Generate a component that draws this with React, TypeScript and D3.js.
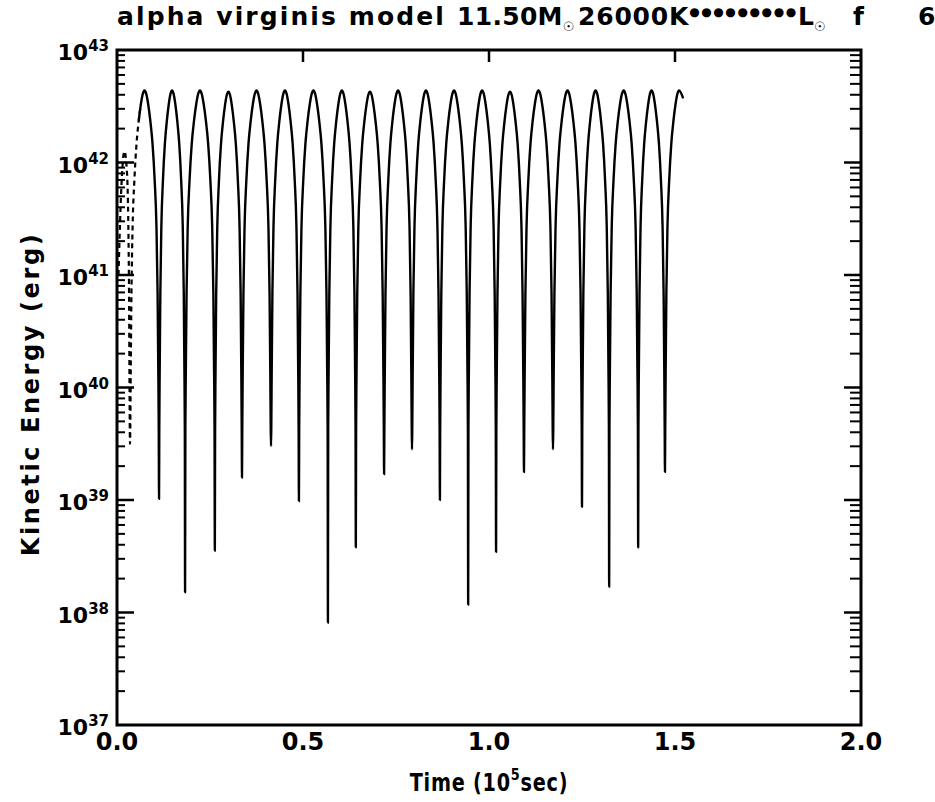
import React from "react";
import * as d3 from "d3";

// ---- data ----
// times (10^5 s) of the kinetic-energy minima (spikes)
const SPIKE_T = [0.035, 0.113, 0.183, 0.263, 0.336, 0.414, 0.489, 0.567, 0.642, 0.718, 0.793, 0.868, 0.944, 1.019, 1.094, 1.172, 1.25, 1.323, 1.401, 1.473];
// log10 of kinetic energy (erg) at those minima
const SPIKE_LOG = [39.5, 39.01, 38.18, 38.55, 39.2, 39.48, 38.99, 37.91, 38.58, 39.23, 39.45, 39.0, 38.07, 38.54, 39.25, 39.45, 38.94, 38.23, 38.58, 39.25];
// log10 of kinetic energy at each maximum (one per arc, last one is partial)
const PEAK_LOG = [42.64, 42.64, 42.64, 42.63, 42.64, 42.64, 42.64, 42.64, 42.63, 42.64, 42.64, 42.64, 42.64, 42.63, 42.64, 42.64, 42.64, 42.64, 42.64, 42.64];
// shape of one arc: fraction of the way from spike to crest, and drop below crest (dex)
const PROFILE_F = [0.02, 0.05, 0.1, 0.18, 0.3, 0.45, 0.6, 0.75, 0.88, 1.0];
const PROFILE_DROP = [3.0, 2.5, 1.8, 1.2, 0.8, 0.47, 0.27, 0.12, 0.03, 0];
// initial transient before the first spike
const TRANSIENT_T = [0.004, 0.012, 0.02, 0.027, 0.032];
const TRANSIENT_LOG = [41.0, 41.8, 42.1, 41.9, 41.0];
// last arc crest and end of the run
const LAST_PEAK_T = 1.511;
const END_T = 1.522;
const END_LOG = 42.57;
const DASHED_UNTIL_T = 0.062;

const X_TICKS = [0, 0.5, 1.0, 1.5, 2.0];
const X_TICK_LABELS = ["0.0", "0.5", "1.0", "1.5", "2.0"];
const Y_DECADES = [37, 38, 39, 40, 41, 42, 43];

const W = 935, H = 802;
const L = 117, R = 861, T = 50, B = 725;
const FONT = "'DejaVu Sans', sans-serif";

export default function App() {
  const x = d3.scaleLinear().domain([0, 2]).range([L, R]);
  const y = d3.scaleLog().domain([1e37, 1e43]).range([B, T]);

  // build the series
  const pts: [number, number][] = [];
  TRANSIENT_T.forEach((t, i) => pts.push([t, TRANSIENT_LOG[i]]));
  for (let i = 0; i < SPIKE_T.length; i++) {
    const s = SPIKE_T[i];
    pts.push([s, SPIKE_LOG[i]]);
    const peak = PEAK_LOG[i];
    if (i < SPIKE_T.length - 1) {
      const n = SPIKE_T[i + 1];
      const mid = (s + n) / 2;
      PROFILE_F.forEach((f, k) => pts.push([s + f * (mid - s), peak - PROFILE_DROP[k]]));
      for (let k = PROFILE_F.length - 2; k >= 0; k--) {
        pts.push([n - PROFILE_F[k] * (n - mid), peak - PROFILE_DROP[k]]);
      }
    } else {
      PROFILE_F.forEach((f, k) => pts.push([s + f * (LAST_PEAK_T - s), peak - PROFILE_DROP[k]]));
      pts.push([END_T, END_LOG]);
    }
  }
  const dashed = pts.filter((p) => p[0] <= DASHED_UNTIL_T + 0.004);
  const solid = pts.filter((p) => p[0] >= DASHED_UNTIL_T - 0.004);

  const line = d3
    .line<[number, number]>()
    .x((d) => x(d[0]))
    .y((d) => y(Math.pow(10, d[1])))
    .curve(d3.curveMonotoneX);

  const minor: number[] = [];
  for (let dcd = 37; dcd < 43; dcd++) for (let k = 2; k <= 9; k++) minor.push(k * Math.pow(10, dcd));

  return (
    <svg width={W} height={H} style={{ position: "absolute", left: 0, top: 0, background: "#fff" }}>
      <rect width={W} height={H} fill="#fff" />
      {/* title */}
      <g fontFamily={FONT} fontWeight="bold" fontSize={25} fill="#000">
        <text x={117} y={25} letterSpacing={2.1}>alpha virginis model</text>
        <text x={457} y={25} letterSpacing={0.3}>11.50M<tspan fontSize={13} dy={6}>☉</tspan></text>
        <text x={578} y={25} letterSpacing={0.8}>26000K<tspan fontSize={12} dy={-9} letterSpacing={1.6}>●●●●●●●●●</tspan></text>
        <text x={798} y={25}>L<tspan fontSize={13} dy={6}>☉</tspan></text>
        <text x={853} y={25}>f</text>
        <text x={918} y={25}>6</text>
      </g>

      {/* curve */}
      <path d={line(dashed) || ""} fill="none" stroke="#000" strokeWidth={2.2} strokeDasharray="5 4" />
      <path d={line(solid) || ""} fill="none" stroke="#000" strokeWidth={2.4} strokeLinejoin="round" />

      {/* frame */}
      <rect x={L} y={T} width={R - L} height={B - T} fill="none" stroke="#000" strokeWidth={3} />

      {/* top major ticks */}
      {X_TICKS.slice(1, -1).map((t) => (
        <line key={"tt" + t} x1={x(t)} x2={x(t)} y1={T} y2={T + 12} stroke="#000" strokeWidth={2.5} />
      ))}

      {/* left / right log ticks */}
      {Y_DECADES.slice(1, -1).map((dcd) => (
        <g key={"maj" + dcd}>
          <line x1={L} x2={L + 17} y1={y(Math.pow(10, dcd))} y2={y(Math.pow(10, dcd))} stroke="#000" strokeWidth={2.5} />
          <line x1={R} x2={R - 17} y1={y(Math.pow(10, dcd))} y2={y(Math.pow(10, dcd))} stroke="#000" strokeWidth={2.5} />
        </g>
      ))}
      {minor.map((v, i) => (
        <g key={"min" + i}>
          <line x1={L} x2={L + 8} y1={y(v)} y2={y(v)} stroke="#000" strokeWidth={2} />
          <line x1={R} x2={R - 11} y1={y(v)} y2={y(v)} stroke="#000" strokeWidth={2} />
        </g>
      ))}

      {/* y tick labels */}
      <g fontFamily={FONT} fontWeight="bold" fill="#000">
        {Y_DECADES.map((dcd) => (
          <text key={"yl" + dcd} x={109} y={y(Math.pow(10, dcd)) + 10} textAnchor="end" fontSize={22}>
            10<tspan fontSize={15} dy={-9}>{dcd}</tspan>
          </text>
        ))}
      </g>

      {/* x tick labels */}
      <g fontFamily={FONT} fontWeight="bold" fill="#000" fontSize={24}>
        {X_TICKS.map((t, i) => (
          <text key={"xl" + t} x={x(t)} y={750} textAnchor="middle">{X_TICK_LABELS[i]}</text>
        ))}
      </g>

      {/* axis titles */}
      <g transform="translate(489,791) scale(0.8,1)">
        <text x={0} y={0} textAnchor="middle" fontFamily={FONT} fontWeight="bold" fontSize={24} letterSpacing={1}>
          Time (10<tspan fontSize={16} dy={-11}>5</tspan><tspan dy={11}>sec)</tspan>
        </text>
      </g>
      <text transform="translate(39,394) rotate(-90)" textAnchor="middle" fontFamily={FONT} fontWeight="bold" fontSize={24} letterSpacing={2.6}>
        Kinetic Energy (erg)
      </text>
    </svg>
  );
}
